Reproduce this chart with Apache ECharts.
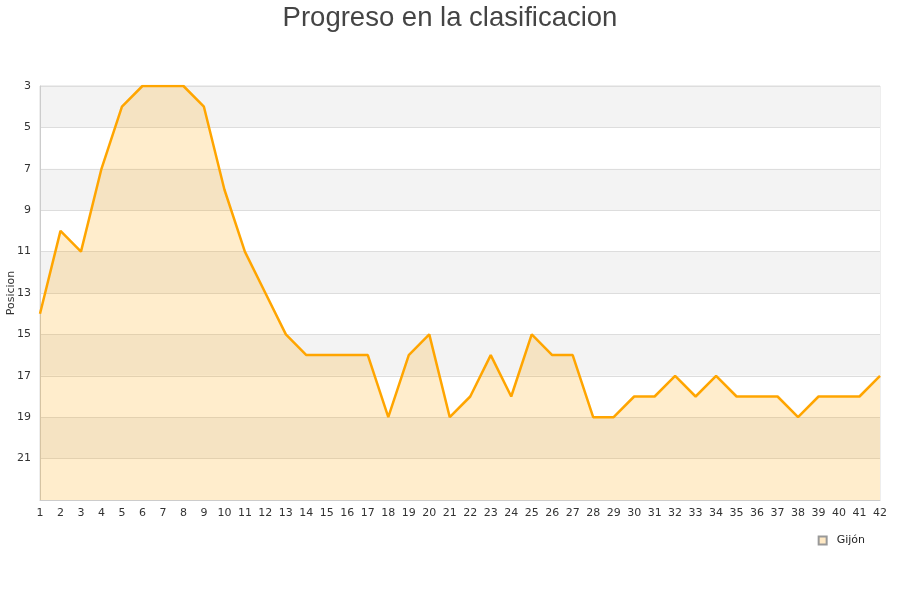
<!DOCTYPE html>
<html>
<head>
<meta charset="utf-8">
<script src="https://cdn.jsdelivr.net/npm/echarts@6/dist/echarts.min.js"></script>
<style>html,body{margin:0;padding:0;background:#fff;}#c{width:900px;height:600px;}</style>
</head>
<body>
<div id="c"></div>
<script>
const titleText = "Progreso en la clasificacion";
const yAxisName = "Posicion";
const seriesName = "Gijón";
const jornadas = [];
for (let i = 1; i <= 42; i++) jornadas.push(String(i));
const posiciones = [14,10,11,7,4,3,3,3,4,8,11,13,15,16,16,16,16,19,16,15,19,18,16,18,15,16,16,19,19,18,18,17,18,17,18,18,18,19,18,18,18,17];

const chart = echarts.init(document.getElementById('c'), null, {renderer: 'canvas'});
chart.setOption({
  animation: false,
  backgroundColor: '#fff',
  title: {
    text: titleText, left: 'center', top: -1,
    textStyle: {fontFamily: 'Liberation Sans, Arial, sans-serif', fontSize: 27.5, fontWeight: 'normal', color: '#444'}
  },
  legend: {
    data: [{name: seriesName, icon: 'rect'}],
    right: 30, top: 530,
    itemWidth: 8, itemHeight: 8, itemGap: 9,
    textStyle: {fontFamily: 'DejaVu Sans, sans-serif', fontSize: 11, color: '#222', padding: [0, 0, 0, 5]}
  },
  grid: {left: 40, right: 20, top: 86, bottom: 100, containLabel: false, outerBoundsMode: 'none', show: true, borderColor: '#ddd', borderWidth: 1},
  xAxis: {
    type: 'category', data: jornadas, boundaryGap: false,
    axisLine: {lineStyle: {color: '#ccc'}},
    axisTick: {show: false},
    axisLabel: {color: '#333', fontSize: 11, fontFamily: 'DejaVu Sans, sans-serif', margin: 8, interval: 0},
    splitLine: {show: false}
  },
  yAxis: {
    type: 'value', inverse: true, min: 3, max: 23, interval: 2,
    name: yAxisName, nameLocation: 'middle', nameGap: 23, nameRotate: 90, nameMoveOverlap: false,
    nameTextStyle: {color: '#333', fontSize: 11, fontFamily: 'DejaVu Sans, sans-serif'},
    axisLine: {show: true, lineStyle: {color: '#ccc'}},
    axisTick: {show: false},
    axisLabel: {color: '#333', fontSize: 11, fontFamily: 'DejaVu Sans, sans-serif', margin: 9, showMaxLabel: false},
    splitLine: {show: true, lineStyle: {color: '#ddd'}},
    splitArea: {show: true, areaStyle: {color: ['#f3f3f3', '#ffffff']}}
  },
  series: [{
    name: seriesName, type: 'line', data: posiciones,
    symbol: 'none', smooth: false,
    lineStyle: {color: '#ffa500', width: 2.5},
    itemStyle: {color: '#ffe9c4', borderColor: '#999', borderWidth: 1},
    areaStyle: {color: '#ffa500', opacity: 0.2, origin: 'end'}
  }]
});
</script>
</body>
</html>
